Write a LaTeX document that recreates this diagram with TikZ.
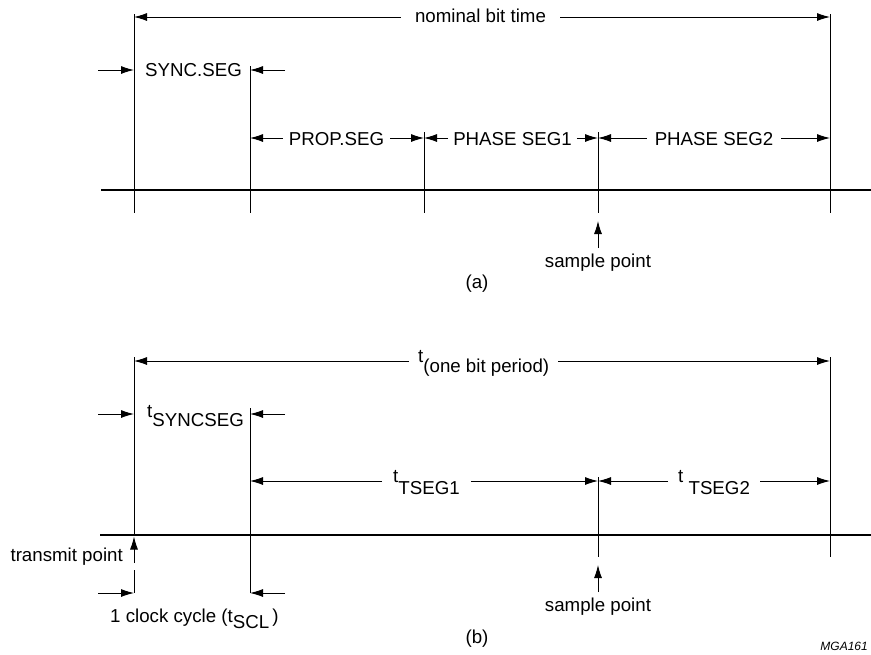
\documentclass[tikz,border=0pt]{standalone}
\usepackage{fontspec}
\setmainfont{Liberation Sans}
\usetikzlibrary{arrows.meta}
\begin{document}
\begin{tikzpicture}[x=1pt,y=-1pt,
  vline/.style={line width=0.9pt},
  busline/.style={line width=2.6pt},
  dim/.style={line width=0.9pt,-{Latex[length=13pt,width=8pt]}},
  lbl/.style={font=\fontsize{18.7}{22}\selectfont,inner sep=0pt},
  tag/.style={font=\itshape\fontsize{12}{14}\selectfont,inner sep=0pt}]
\useasboundingbox (0,0) rectangle (871,654);
\clip (0,0) rectangle (871,654);

% ---------------- (a) ----------------
% vertical lines
\coordinate (a0t) at (134,14);  \coordinate (a0b) at (134,213);
\coordinate (a1t) at (250,66);  \coordinate (a1b) at (250,213);
\coordinate (a2t) at (424,132); \coordinate (a2b) at (424,213);
\coordinate (a3t) at (598,132); \coordinate (a3b) at (598,213);
\coordinate (a4t) at (830,14);  \coordinate (a4b) at (830,213);
\foreach \i in {0,...,4} {\draw[vline] (a\i t) -- (a\i b);}
% bus line
\coordinate (abusL) at (101,190); \coordinate (abusR) at (871,190);
\draw[busline] (abusL) -- (abusR);
% nominal bit time
\coordinate (ta0) at (134,17); \coordinate (ta4) at (830,17);
\node[lbl,anchor=base,inner xsep=14pt] (nbt) at (480.5,22) {nominal bit time};
\draw[dim] (nbt.west |- ta0) -- (ta0);
\draw[dim] (nbt.east |- ta4) -- (ta4);
% sync seg
\coordinate (sa0) at (134,70); \coordinate (sa1) at (250,70);
\coordinate (sa0o) at (98,70); \coordinate (sa1o) at (285,70);
\node[lbl,anchor=base] (syncseg) at (193.5,76) {SYNC.SEG};
\draw[dim] (sa0o) -- (sa0);
\draw[dim] (sa1o) -- (sa1);
% segments
\coordinate (ra1) at (250,138); \coordinate (ra2) at (424,138);
\coordinate (ra3) at (598,138); \coordinate (ra4) at (830,138);
\node[lbl,anchor=base,inner xsep=6pt] (prop) at (336.5,145) {PROP.SEG};
\node[lbl,anchor=base,inner xsep=5pt] (ps1) at (512.5,145) {PHASE SEG1};
\node[lbl,anchor=base,inner xsep=8pt] (ps2) at (714,145) {PHASE SEG2};
\draw[dim] (prop.west |- ra1) -- (ra1);
\draw[dim] (prop.east |- ra2) -- (ra2);
\draw[dim] (ps1.west |- ra2) -- (ra2);
\draw[dim] (ps1.east |- ra3) -- (ra3);
\draw[dim] (ps2.west |- ra3) -- (ra3);
\draw[dim] (ps2.east |- ra4) -- (ra4);
% sample point
\coordinate (spaTip) at (598,221); \coordinate (spaTail) at (598,248);
\draw[dim] (spaTail) -- (spaTip);
\node[lbl,anchor=base] (spa) at (598,267) {sample point};
\node[lbl,anchor=base] (capa) at (477,288) {(a)};

% ---------------- (b) ----------------
\coordinate (b0t) at (134,357); \coordinate (b0b) at (134,535);
\coordinate (b0u) at (134,570); \coordinate (b0v) at (134,593);
\coordinate (b1t) at (250,408); \coordinate (b1b) at (250,593);
\coordinate (b3t) at (598,477); \coordinate (b3b) at (598,557);
\coordinate (b4t) at (830,357); \coordinate (b4b) at (830,557);
\draw[vline] (b0t) -- (b0b);
\draw[vline] (b0u) -- (b0v);
\draw[vline] (b1t) -- (b1b);
\draw[vline] (b3t) -- (b3b);
\draw[vline] (b4t) -- (b4b);
% bus line
\coordinate (bbusL) at (100,535); \coordinate (bbusR) at (871,535);
\draw[busline] (bbusL) -- (bbusR);
% one bit period
\coordinate (tb0) at (134,361); \coordinate (tb4) at (830,361);
\node[lbl,anchor=base west,inner xsep=9pt] (obp) at (409,362) {t\raisebox{-10pt}{(one bit period)}};
\draw[dim] (obp.west |- tb0) -- (tb0);
\draw[dim] (obp.east |- tb4) -- (tb4);
% sync seg
\coordinate (sb0) at (134,414); \coordinate (sb1) at (250,414);
\coordinate (sb0o) at (98,414); \coordinate (sb1o) at (285,414);
\node[lbl,anchor=base west] (tsync) at (147,417) {t\raisebox{-9pt}{SYNCSEG}};
\draw[dim] (sb0o) -- (sb0);
\draw[dim] (sb1o) -- (sb1);
% tseg1 / tseg2
\coordinate (rb1) at (250,481); \coordinate (rb3) at (598,481); \coordinate (rb4) at (830,481);
\node[lbl,anchor=base west,inner xsep=11pt] (tseg1) at (382,482) {t\raisebox{-12pt}{TSEG1}};
\node[lbl,anchor=base west,inner xsep=10pt] (tseg2) at (668,482) {t \raisebox{-12pt}{TSEG2}};
\draw[dim] (tseg1.west |- rb1) -- (rb1);
\draw[dim] (tseg1.east |- rb3) -- (rb3);
\draw[dim] (tseg2.west |- rb3) -- (rb3);
\draw[dim] (tseg2.east |- rb4) -- (rb4);
% transmit point
\coordinate (tpTip) at (134,536.5); \coordinate (tpTail) at (134,563);
\draw[dim] (tpTail) -- (tpTip);
\node[lbl,anchor=base east] (tp) at (123,561) {transmit point};
% clock cycle
\coordinate (cb0) at (134,593); \coordinate (cb1) at (250,593);
\coordinate (cb0o) at (98,593); \coordinate (cb1o) at (285,593);
\draw[dim] (cb0o) -- (cb0);
\draw[dim] (cb1o) -- (cb1);
\node[lbl,anchor=base west] (clk) at (110,622) {1 clock cycle (t\raisebox{-6pt}{SCL}\,)};
% sample point
\coordinate (spbTip) at (598,565); \coordinate (spbTail) at (598,592);
\draw[dim] (spbTail) -- (spbTip);
\node[lbl,anchor=base] (spb) at (598,611) {sample point};
\node[lbl,anchor=base] (capb) at (477,643) {(b)};
% figure tag
\node[tag,anchor=base east] (mga) at (868,650) {MGA161};
\end{tikzpicture}
\end{document}
